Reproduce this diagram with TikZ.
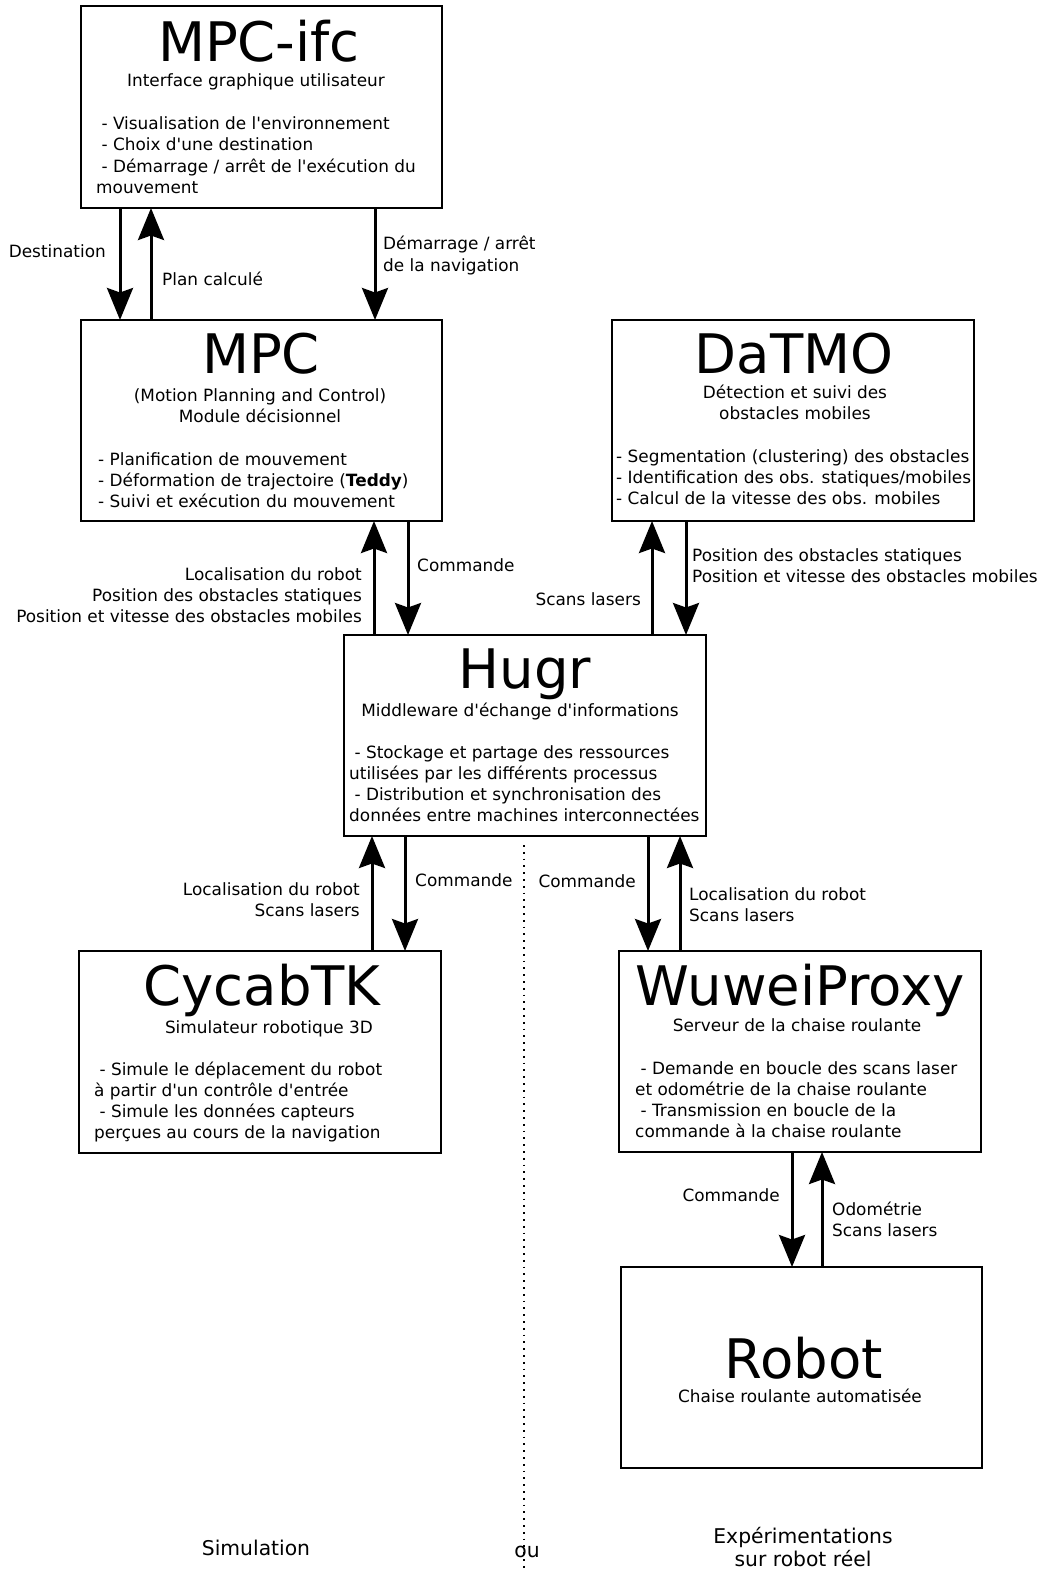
\documentclass[tikz,border=0pt]{standalone}
\usepackage{fontspec}
\setmainfont{DejaVu Sans}
\usetikzlibrary{arrows.meta}
\newcommand\aq{\textquotesingle}
\newcommand\mlines[2][l]{\begin{tabular}[t]{@{}#1@{}}#2\end{tabular}}
\begin{document}
\begin{tikzpicture}[x=1pt,y=-1pt,
  box/.style={draw,line width=1.6pt,inner sep=0pt,outer sep=0pt},
  arr/.style={line width=3pt,-{Stealth[length=32pt,width=26pt,inset=4.5pt]}},
  ttl/.style={font=\fontsize{54.5}{60}\selectfont,anchor=base,inner sep=0pt},
  txt/.style={font=\fontsize{16.9}{21.3}\selectfont,inner sep=0pt},
  txl/.style={txt,anchor=base west},
  txr/.style={txt,anchor=base east},
  txc/.style={txt,anchor=base},
  big/.style={font=\fontsize{20.3}{23.5}\selectfont,inner sep=0pt,anchor=base},
  dotline/.style={line width=1.8pt,dash pattern=on 1.8pt off 5pt}
]
\useasboundingbox (0,0) rectangle (1042,1570);

% boxes
\node[box,minimum width=361pt,minimum height=202pt] (ifc) at (261.5,107) {};
\node[box,minimum width=361pt,minimum height=201pt] (mpc) at (261.5,420.5) {};
\node[box,minimum width=362pt,minimum height=201pt] (datmo) at (793,420.5) {};
\node[box,minimum width=362pt,minimum height=201pt] (hugr) at (525,735.5) {};
\node[box,minimum width=362pt,minimum height=202pt] (cycab) at (260,1052) {};
\node[box,minimum width=362pt,minimum height=201pt] (wuwei) at (800,1051.5) {};
\node[box,minimum width=361pt,minimum height=201pt] (robot) at (801.5,1367.5) {};

% MPC-ifc
\node[ttl] (ifcT) at (259,62) {MPC-ifc};
\node[txc] (ifcS) at (256,87) {Interface graphique utilisateur};
\node[txl] (ifcL) at (96,129.5) {\mlines{\ - Visualisation de l\aq environnement\\\ - Choix d\aq une destination\\\ - Démarrage / arrêt de l\aq exécution du\\mouvement}};

% MPC
\node[ttl] (mpcT) at (261,373) {MPC};
\node[txc] (mpcS) at (260,401) {\mlines[c]{(Motion Planning and Control)\\Module décisionnel}};
\node[txl] (mpcL) at (98,465) {\mlines{- Planification de mouvement\\- Déformation de trajectoire (\textbf{Teddy})\\- Suivi et exécution du mouvement}};

% DaTMO
\node[ttl] (datT) at (794,373) {DaTMO};
\node[txc] (datS) at (795,398) {\mlines[c]{Détection et suivi des\\obstacles mobiles}};
\node[txl] (datL) at (616,462) {\mlines{- Segmentation (clustering) des obstacles\\- Identification des obs. statiques/mobiles\\- Calcul de la vitesse des obs. mobiles}};

% Hugr
\node[ttl] (hugT) at (525,688) {Hugr};
\node[txc] (hugS) at (520,716) {Middleware d\aq échange d\aq informations};
\node[txl] (hugL) at (349,758) {\mlines{\ - Stockage et partage des ressources\\utilisées par les différents processus\\\ - Distribution et synchronisation des\\données entre machines interconnectées}};

% CycabTK
\node[ttl] (cycT) at (262,1005) {CycabTK};
\node[txc] (cycS) at (269,1033) {Simulateur robotique 3D};
\node[txl] (cycL) at (94,1075) {\mlines{\ - Simule le déplacement du robot\\à partir d\aq un contrôle d\aq entrée\\\ - Simule les données capteurs\\perçues au cours de la navigation}};

% WuweiProxy
\node[ttl] (wuwT) at (800,1005) {WuweiProxy};
\node[txc] (wuwS) at (797,1031) {Serveur de la chaise roulante};
\node[txl] (wuwL) at (635,1074) {\mlines{\ - Demande en boucle des scans laser\\et odométrie de la chaise roulante\\\ - Transmission en boucle de la\\commande à la chaise roulante}};

% Robot
\node[ttl] (robT) at (804,1378) {Robot};
\node[txc] (robS) at (800,1402) {Chaise roulante automatisée};

% connectors
\draw[arr] (120,0 |- ifc.south) -- (120,0 |- mpc.north);
\draw[arr] (151,0 |- mpc.north) -- (151,0 |- ifc.south);
\draw[arr] (375,0 |- ifc.south) -- (375,0 |- mpc.north);
\draw[arr] (374,0 |- hugr.north) -- (374,0 |- mpc.south);
\draw[arr] (408,0 |- mpc.south) -- (408,0 |- hugr.north);
\draw[arr] (652,0 |- hugr.north) -- (652,0 |- datmo.south);
\draw[arr] (686,0 |- datmo.south) -- (686,0 |- hugr.north);
\draw[arr] (372,0 |- cycab.north) -- (372,0 |- hugr.south);
\draw[arr] (405,0 |- hugr.south) -- (405,0 |- cycab.north);
\draw[arr] (648,0 |- hugr.south) -- (648,0 |- wuwei.north);
\draw[arr] (680,0 |- wuwei.north) -- (680,0 |- hugr.south);
\draw[arr] (792,0 |- wuwei.south) -- (792,0 |- robot.north);
\draw[arr] (822,0 |- robot.north) -- (822,0 |- wuwei.south);

% separator
\coordinate (dtop) at (524,845);
\coordinate (dbot) at (524,1570);
\draw[dotline] (dtop) -- (dbot);

% labels
\node[txr] (l1) at (106,258) {Destination};
\node[txl] (l2) at (162,285) {Plan calculé};
\node[txl] (l3) at (383,250) {\mlines{Démarrage / arrêt\\de la navigation}};
\node[txr] (l4) at (362,580) {\mlines[r]{Localisation du robot\\Position des obstacles statiques\\Position et vitesse des obstacles mobiles}};
\node[txl] (l5) at (417,571) {Commande};
\node[txr] (l6) at (641,605) {Scans lasers};
\node[txl] (l7) at (692,561) {\mlines{Position des obstacles statiques\\Position et vitesse des obstacles mobiles}};
\node[txr] (l8) at (360,895) {\mlines[r]{Localisation du robot\\Scans lasers}};
\node[txl] (l9) at (415,886) {Commande};
\node[txr] (l10) at (636,887) {Commande};
\node[txl] (l11) at (689,900) {\mlines{Localisation du robot\\Scans lasers}};
\node[txr] (l12) at (780,1201) {Commande};
\node[txl] (l13) at (832,1215) {\mlines{Odométrie\\Scans lasers}};
\node[big] (l14) at (256,1555) {Simulation};
\node[big] (l15) at (527,1557) {ou};
\node[big] (l16) at (803,1543) {\mlines[c]{Expérimentations\\sur robot réel}};
\end{tikzpicture}
\end{document}
